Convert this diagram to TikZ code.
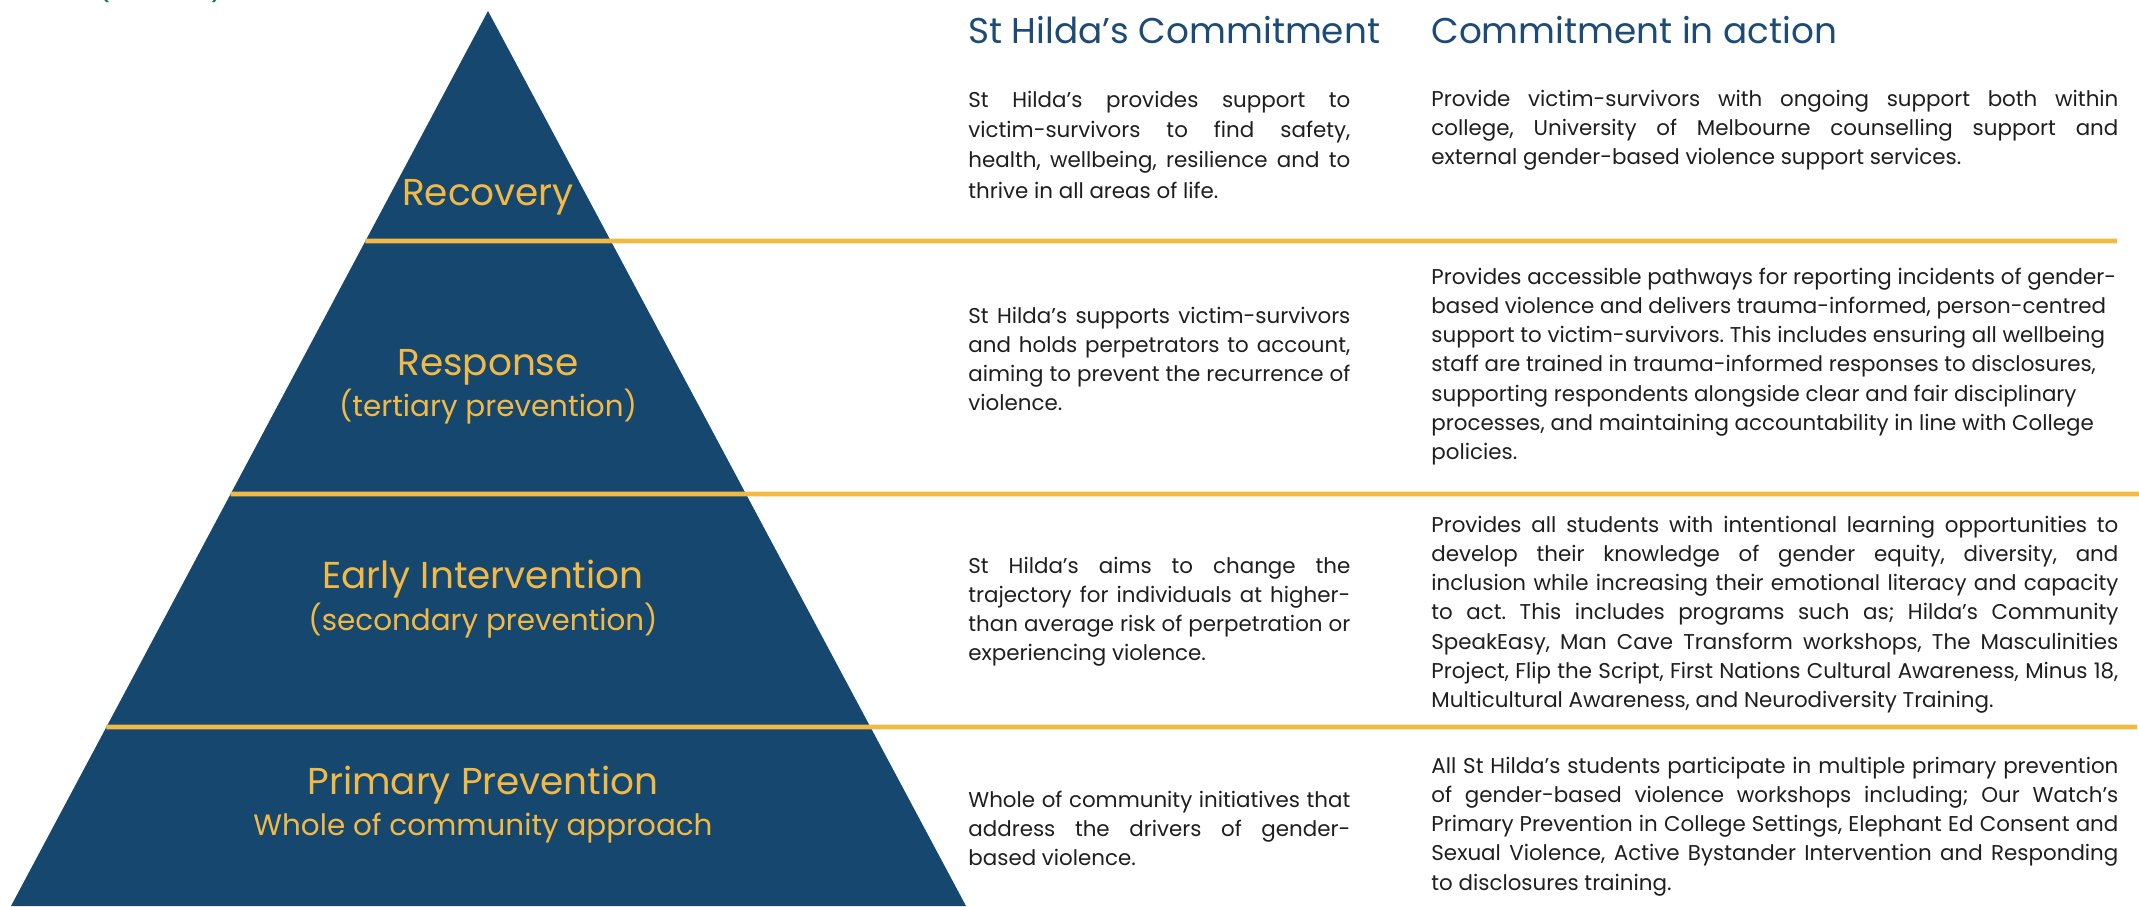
\documentclass[tikz,border=0pt]{standalone}
\usepackage{fontspec}
\setmainfont{Poppins}
\usetikzlibrary{calc}

\definecolor{pyrnavy}{HTML}{16476F}
\definecolor{bandgold}{HTML}{F2BA45}
\definecolor{headblue}{HTML}{1D4B78}
\definecolor{bodyink}{HTML}{1E1E1E}
\definecolor{notegreen}{HTML}{0E7A5C}

% one justified line, and one line at its natural width
\newcommand\jl[1]{\hbox to\hsize{#1}}
\newcommand\el[1]{\hbox{#1}}
\newcommand\colA[2][14.65pt]{\parbox[t]{191pt}{\fontsize{10.7pt}{#1}\selectfont #2}}
\newcommand\colB[1]{\parbox[t]{343.5pt}{\fontsize{10.7pt}{14.65pt}\selectfont #1}}
\hbadness=10000
\hfuzz=20pt
\frenchspacing

\begin{document}
\begin{tikzpicture}[x=0.5pt,y=-0.5pt,
  body/.style={anchor=base west,inner sep=0pt,text=bodyink},
  colhead/.style={anchor=base west,inner sep=0pt,text=headblue,font=\fontsize{17.9pt}{21pt}\selectfont},
  tierlabel/.style={anchor=base,inner sep=0pt,text=bandgold,font=\fontsize{18.7pt}{22pt}\selectfont},
  tiersub/.style={anchor=base,inner sep=0pt,text=bandgold,font=\fontsize{14.7pt}{17pt}\selectfont},
  divider/.style={draw=bandgold,line width=2.4pt}]
\useasboundingbox (0,0) rectangle (2139,906);

% pyramid
\coordinate (apex) at (488,11);
\coordinate (bl) at (11,906);
\coordinate (br) at (966,906);
\fill[pyrnavy] (apex) -- (br) -- (bl) -- cycle;

% tier dividers, starting on the left flank of the pyramid
\coordinate (d1) at ($(apex)!0.2570!(bl)$);
\coordinate (d2) at ($(apex)!0.5397!(bl)$);
\coordinate (d3) at ($(apex)!0.8000!(bl)$);
\coordinate (e1) at (2117,241);
\coordinate (e2) at (2139,494);
\coordinate (e3) at (2137,727);
\draw[divider] (d1) -- (e1);
\draw[divider] (d2) -- (e2);
\draw[divider] (d3) -- (e3);

% cut-off note above the page
\node[anchor=south,inner sep=0pt,text=notegreen,font=\fontsize{14pt}{17pt}\selectfont] (nl) at (104,3) {(};
\node[anchor=south,inner sep=0pt,text=notegreen,font=\fontsize{14pt}{17pt}\selectfont] (nr) at (217,3) {)};

% tier labels
\node[tierlabel] (rec) at (488,205) {Recovery};
\node[tierlabel] (resp) at (488,375) {Response};
\node[tiersub] (respsub) at (488,416) {(tertiary prevention)};
\node[tierlabel] (early) at (483,588) {Early Intervention};
\node[tiersub] (earlysub) at (483,630) {(secondary prevention)};
\node[tierlabel] (prim) at (483,794) {Primary Prevention};
\node[tiersub] (primsub) at (483,835) {Whole of community approach};

% column headings
\node[colhead] (hA) at (968,43) {St Hilda’s Commitment};
\node[colhead] (hB) at (1431,43) {Commitment in action};

% Recovery
\node[body] (recA) at (968,107) {\colA[15.2pt]{%
  \jl{St Hilda’s provides support to}
  \jl{victim-survivors to find safety,}
  \jl{health, wellbeing, resilience and to}
  \el{thrive in all areas of life.}}};
\node[body] (recB) at (1431,106) {\colB{%
  \jl{Provide victim-survivors with ongoing support both within}
  \jl{college, University of Melbourne counselling support and}
  \el{external gender-based violence support services.}}};

% Response
\node[body] (respA) at (968,323) {\colA{%
  \jl{St Hilda’s supports victim-survivors}
  \jl{and holds perpetrators to account,}
  \jl{aiming to prevent the recurrence of}
  \el{violence.}}};
\node[body] (respB) at (1431,284) {\colB{%
  \el{Provides accessible pathways for reporting incidents of gender-}
  \el{based violence and delivers trauma-informed, person-centred}
  \el{support to victim-survivors. This includes ensuring all wellbeing}
  \el{staff are trained in trauma-informed responses to disclosures,}
  \el{supporting respondents alongside clear and fair disciplinary}
  \el{processes, and maintaining accountability in line with College}
  \el{policies.}}};

% Early Intervention
\node[body] (earlyA) at (968,573) {\colA{%
  \jl{St Hilda’s aims to change the}
  \jl{trajectory for individuals at higher-}
  \jl{than average risk of perpetration or}
  \el{experiencing violence.}}};
\node[body] (earlyB) at (1431,532) {\colB{%
  \jl{Provides all students with intentional learning opportunities to}
  \jl{develop their knowledge of gender equity, diversity, and}
  \jl{inclusion while increasing their emotional literacy and capacity}
  \jl{to act. This includes programs such as; Hilda’s Community}
  \jl{SpeakEasy, Man Cave Transform workshops, The Masculinities}
  \jl{Project, Flip the Script, First Nations Cultural Awareness, Minus 18,}
  \el{Multicultural Awareness, and Neurodiversity Training.}}};

% Primary Prevention
\node[body] (primA) at (968,807) {\colA{%
  \jl{Whole of community initiatives that}
  \jl{address the drivers of gender-}
  \el{based violence.}}};
\node[body] (primB) at (1431,773) {\colB{%
  \jl{All St Hilda’s students participate in multiple primary prevention}
  \jl{of gender-based violence workshops including; Our Watch’s}
  \jl{Primary Prevention in College Settings, Elephant Ed Consent and}
  \jl{Sexual Violence, Active Bystander Intervention and Responding}
  \el{to disclosures training.}}};
\end{tikzpicture}
\end{document}
